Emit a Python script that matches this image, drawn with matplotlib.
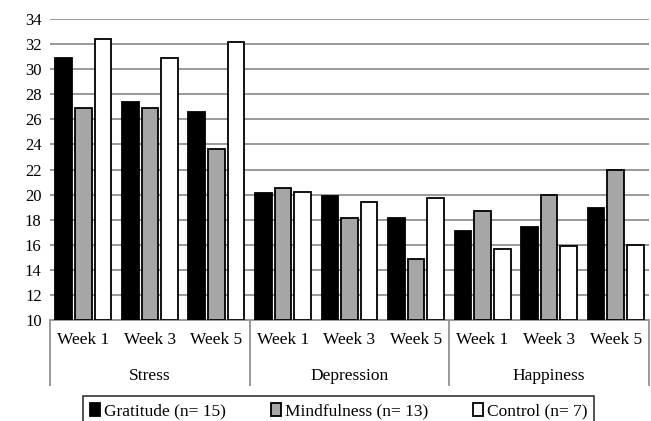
import matplotlib.pyplot as plt
import numpy as np

plt.rcParams['font.family'] = ['Liberation Serif', 'DejaVu Serif']

groups = ["Stress", "Depression", "Happiness"]
weeks = ["Week 1", "Week 3", "Week 5"]

gratitude = [30.9, 27.4, 26.6, 20.1, 19.9, 18.1, 17.1, 17.4, 18.9]
mindfulness = [26.9, 26.9, 23.6, 20.5, 18.1, 14.9, 18.7, 20.0, 22.0]
control = [32.4, 30.9, 32.2, 20.2, 19.4, 19.7, 15.7, 15.9, 16.0]

series = [
    ("Gratitude (n= 15)", gratitude, "black"),
    ("Mindfulness (n= 13)", mindfulness, "#a6a6a6"),
    ("Control (n= 7)", control, "white"),
]

fig = plt.figure(figsize=(6.51, 4.21), dpi=100)
ax = fig.add_axes([50/651, 1 - 320/421, 599/651, 301/421])

x = np.arange(len(gratitude))
w = 0.25
step = 0.295
for k, (name, vals, col) in enumerate(series):
    ax.bar(x + (k - 1) * step, np.array(vals) - 10, bottom=10, width=w,
           color=col, edgecolor="black", linewidth=1.3, label=name, zorder=3)

ax.set_ylim(10, 34)
ax.set_xlim(-0.5, len(x) - 0.5)
ax.set_yticks(range(10, 35, 2))
ax.yaxis.grid(True, color="#999999", linewidth=1.4, zorder=0)
ax.tick_params(axis="y", length=0, labelsize=12, pad=6)
ax.tick_params(axis="x", length=0, labelsize=12.5, pad=9)
ax.set_xticks(x)
ax.set_xticklabels(weeks * 3)
for s in ["top", "left", "right"]:
    ax.spines[s].set_visible(False)
ax.spines["bottom"].set_color("#999999")
ax.spines["bottom"].set_linewidth(1.4)

# group labels and separators under the axis
trans = ax.get_xaxis_transform()
for i, g in enumerate(groups):
    ax.text(3 * i + 1, -0.185, g, transform=trans, ha="center", va="center", fontsize=12.5)
for b in [-0.5, 2.5, 5.5, 8.5]:
    ax.plot([b, b], [0, -0.216], transform=trans, color="#999999", lw=1.4, clip_on=False)

leg = fig.legend(loc="upper center", bbox_to_anchor=(0.52, 1 - 396/421), ncol=3,
                 frameon=True, fancybox=False, edgecolor="black", fontsize=12.5,
                 handlelength=0.6, handleheight=0.8, handletextpad=0.2,
                 columnspacing=2.6, borderpad=0.4, borderaxespad=0)
leg.get_frame().set_linewidth(1.2)

fig.savefig("out.png", dpi=100)
